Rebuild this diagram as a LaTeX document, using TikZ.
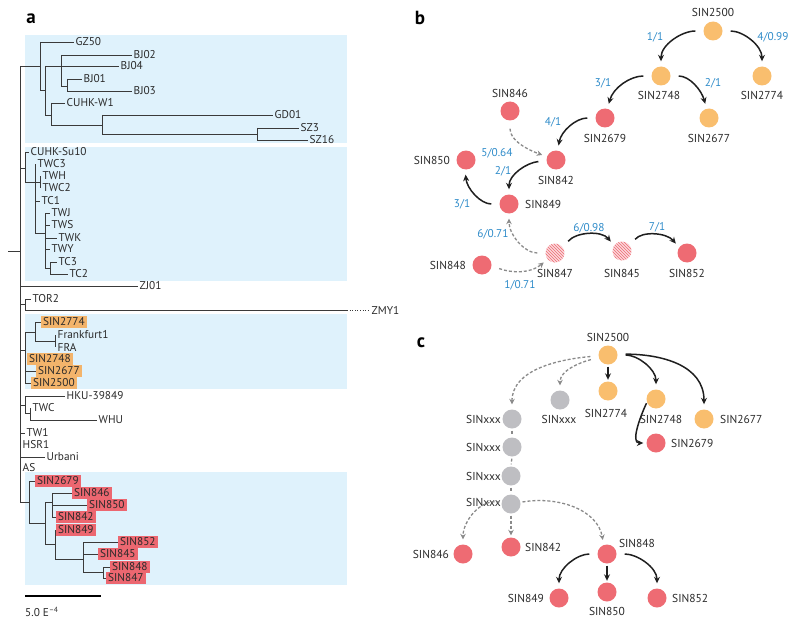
\documentclass[tikz,border=0pt]{standalone}
\usepackage{fontspec}
\setmainfont{PT Sans}
\usetikzlibrary{arrows.meta,patterns}
\definecolor{bluebg}{HTML}{DFF2FC}
\definecolor{olab}{HTML}{F3B46B}
\definecolor{rlab}{HTML}{EC6770}
\definecolor{corange}{HTML}{F9BE6E}
\definecolor{cred}{HTML}{EE6B73}
\definecolor{cpink}{HTML}{FBD9DC}
\definecolor{cgray}{HTML}{BEBEC2}
\definecolor{cblue}{HTML}{2E8BC9}
\definecolor{cdash}{HTML}{8A8A8A}
\definecolor{treegray}{HTML}{3A3A3A}
\definecolor{txt}{HTML}{2A2A2A}
\newcommand\tlfont{\fontsize{11.3}{11.3}\selectfont}
\newcommand\nfont{\fontsize{11.5}{11.5}\selectfont}
\newcommand\efont{\fontsize{11.3}{11.3}\selectfont}
\tikzset{
 br/.style={draw=treegray, line width=0.8pt},
 lf/.style={anchor=west, inner sep=1.5pt, font=\tlfont, text=txt},
 olab/.style={anchor=west, fill=olab, inner xsep=2pt, inner ysep=1.2pt, text height=8pt, text depth=1pt, font=\tlfont, text=txt},
 rlab/.style={olab, fill=rlab},
 cir/.style={circle, minimum size=19pt, inner sep=0pt},
 ocir/.style={cir, fill=corange},
 rcir/.style={cir, fill=cred},
 gcir/.style={cir, fill=cgray},
 hcir/.style={cir, fill=cpink, postaction={pattern=north west lines, pattern color=cred}},
 nl/.style={font=\nfont, inner sep=1pt, text=txt},
 el/.style={font=\efont, inner sep=1pt, text=cblue},
 blk/.style={draw=black!88, line width=1.5pt, -{Stealth[length=6.5pt,width=6pt]}, shorten <=8pt, shorten >=5pt},
 gdsh/.style={draw=cdash, line width=1.3pt, dash pattern=on 3pt off 2pt, -{Stealth[length=5.5pt,width=5.5pt]}, shorten <=8pt, shorten >=5pt},
 gln/.style={draw=cdash, line width=1.3pt, dash pattern=on 3pt off 2pt},
 plab/.style={font=\fontsize{19}{19}\selectfont\bfseries, inner sep=0pt},
}
\begin{document}
\begin{tikzpicture}[x=1pt,y=-1pt]
\useasboundingbox (0,0) rectangle (800,623);
% ---------------- panel a ----------------
\node[plab] (pa) at (31,19) {a};
\fill[bluebg] (25,35) rectangle (347,143);
\fill[bluebg] (25,147) rectangle (347,281);
\fill[bluebg] (25,314) rectangle (347,389);
\fill[bluebg] (25,472) rectangle (347,585);
% root and backbone
\draw[br] (8,251) -- (20,251);
\draw[br] (20,66) -- (20,502);
% clade 1
\draw[br] (20,66) -- (40,66) (40,42) -- (40,90);
\node[lf] (gz50) at (74,42) {GZ50}; \draw[br] (40,42) -- (gz50.west);
\draw[br] (40,90) -- (45,90) (45,66) -- (45,115);
\draw[br] (61,55) -- (61,86);
\node[lf] (bj02) at (132,55) {BJ02}; \draw[br] (61,55) -- (bj02.west);
\node[lf] (bj04) at (119,66) {BJ04}; \draw[br] (45,66) -- (bj04.west);
\draw[br] (61,86) -- (67,86) (67,79) -- (67,91);
\node[lf] (bj01) at (82,79) {BJ01}; \draw[br] (67,79) -- (bj01.west);
\node[lf] (bj03) at (132,91) {BJ03}; \draw[br] (67,91) -- (bj03.west);
\draw[br] (45,115) -- (51,115) (51,103) -- (51,125);
\node[lf] (cuhkw1) at (65,103) {CUHK-W1}; \draw[br] (51,103) -- (cuhkw1.west);
\draw[br] (51,125) -- (102,125) (102,115) -- (102,134);
\node[lf] (gd01) at (273,115) {GD01}; \draw[br] (102,115) -- (gd01.west);
\draw[br] (102,134) -- (257,134) (257,128) -- (257,140);
\node[lf] (sz3) at (299,128) {SZ3}; \draw[br] (257,128) -- (sz3.west);
\node[lf] (sz16) at (308,140) {SZ16}; \draw[br] (257,140) -- (sz16.west);
% clade 2
\draw[br] (20,168) -- (25,168) (25,152) -- (25,182);
\node[lf] (su10) at (29,152) {CUHK-Su10}; \draw[br] (25,152) -- (su10.west);
\draw[br] (25,182) -- (40,182) (35,164) -- (35,233) (40,176) -- (40,188);
\node[lf] (twc3) at (36,164) {TWC3};
\node[lf] (twh) at (41,176) {TWH};
\node[lf] (twc2) at (41,188) {TWC2};
\node[lf] (tc1) at (40,201) {TC1}; \draw[br] (35,201) -- (tc1.west);
\draw[br] (35,233) -- (45,233) (45,213) -- (45,268);
\node[lf] (twj) at (50,213) {TWJ}; \draw[br] (45,213) -- (twj.west);
\node[lf] (tws) at (50,225) {TWS}; \draw[br] (45,225) -- (tws.west);
\node[lf] (twk) at (57,238) {TWK}; \draw[br] (45,238) -- (twk.west);
\node[lf] (twy) at (50,249) {TWY}; \draw[br] (45,249) -- (twy.west);
\draw[br] (45,268) -- (50,268) (50,262) -- (50,274);
\node[lf] (tc3) at (57,262) {TC3}; \draw[br] (50,262) -- (tc3.west);
\node[lf] (tc2) at (68,274) {TC2}; \draw[br] (50,274) -- (tc2.west);
\node[lf] (zj01) at (138,286) {ZJ01}; \draw[br] (20,286) -- (zj01.west);
% TOR2 / ZMY1
\draw[br] (20,304) -- (25,304) (25,299) -- (25,310);
\node[lf] (tor2) at (31,299) {TOR2}; \draw[br] (25,299) -- (tor2.west);
\coordinate (zmyend) at (347,310);
\node[lf] (zmy1) at (370,310) {ZMY1};
\draw[br] (25,310) -- (zmyend);
\draw[draw=treegray, line width=0.8pt, dash pattern=on 1pt off 1.6pt] (zmyend) -- (zmy1.west);
% orange clade
\draw[br] (20,350) -- (25,350) (25,332) -- (25,383);
\draw[br] (25,332) -- (35,332) (35,322) -- (35,341);
\node[olab] (t2774) at (41,322) {SIN2774}; \draw[br] (35,322) -- (t2774.west);
\draw[br] (35,341) -- (55,341) (55,335) -- (55,347);
\node[lf] (frank) at (56,335) {Frankfurt1};
\node[lf] (fra) at (56,347) {FRA};
\node[olab] (t2748) at (27,359) {SIN2748};
\node[olab] (t2677) at (36,371) {SIN2677}; \draw[br] (25,371) -- (t2677.west);
\node[olab] (t2500) at (31,383) {SIN2500}; \draw[br] (25,383) -- (t2500.west);
% HKU clade
\draw[br] (20,405) -- (25,405) (25,396) -- (25,413);
\node[lf] (hku) at (65,396) {HKU-39849}; \draw[br] (25,396) -- (hku.west);
\draw[br] (25,413) -- (30,413) (30,408) -- (30,420);
\node[lf] (twc) at (31,408) {TWC};
\node[lf] (whu) at (97,420) {WHU}; \draw[br] (30,420) -- (whu.west);
\node[lf] (tw1) at (25,433) {TW1}; \draw[br] (20,433) -- (tw1.west);
\node[lf] (hsr1) at (21,445) {HSR1};
\node[lf] (urb) at (45,457) {Urbani}; \draw[br] (20,457) -- (urb.west);
\node[lf] (as) at (21,468) {AS};
% red clade
\draw[br] (20,502) -- (29,502) (29,481) -- (29,523);
\node[rlab] (t2679) at (35,481) {SIN2679}; \draw[br] (29,481) -- (t2679.west);
\draw[br] (29,523) -- (45,523) (45,502) -- (45,544);
\draw[br] (45,502) -- (52,502) (52,493) -- (52,517);
\node[rlab] (t846) at (72,493) {SIN846}; \draw[br] (52,493) -- (t846.west);
\node[rlab] (t850) at (87,505) {SIN850}; \draw[br] (52,505) -- (t850.west);
\node[rlab] (t842) at (56,517) {SIN842}; \draw[br] (52,517) -- (t842.west);
\draw[br] (45,544) -- (55,544) (55,530) -- (55,559);
\node[rlab] (t849) at (56,530) {SIN849};
\draw[br] (55,559) -- (83,559) (83,542) -- (83,572);
\node[rlab] (t852) at (118,542) {SIN852}; \draw[br] (83,542) -- (t852.west);
\node[rlab] (t845) at (98,554) {SIN845}; \draw[br] (83,554) -- (t845.west);
\draw[br] (83,572) -- (103,572) (103,567) -- (103,578);
\node[rlab] (t848) at (110,567) {SIN848}; \draw[br] (103,567) -- (t848.west);
\node[rlab] (t847) at (106,578) {SIN847}; \draw[br] (103,578) -- (t847.west);
% scale bar
\coordinate (sb1) at (25,596); \coordinate (sb2) at (101,596);
\draw[draw=black, line width=1.2pt] (sb1) -- (sb2);
\node[lf, inner sep=0pt] (sblab) at (25,612) {5.0 E\raisebox{4pt}{\fontsize{7.5}{7.5}\selectfont –4}};
% ---------------- panel b ----------------
\node[plab] (pb) at (420,18) {b};
\node[ocir] (b2500) at (713,31) {}; \node[nl] (lb2500) at (713,12) {SIN2500};
\node[ocir] (b2748) at (661,76) {}; \node[nl] (lb2748) at (659,95) {SIN2748};
\node[ocir] (b2774) at (762,76) {}; \node[nl] (lb2774) at (762,95) {SIN2774};
\node[rcir] (b2679) at (605,118) {}; \node[nl] (lb2679) at (605,138) {SIN2679};
\node[ocir] (b2677) at (709,118) {}; \node[nl] (lb2677) at (709,138) {SIN2677};
\node[rcir] (b846) at (510,111) {}; \node[nl] (lb846) at (510,93) {SIN846};
\node[rcir] (b842) at (556,160) {}; \node[nl] (lb842) at (556,180) {SIN842};
\node[rcir] (b850) at (466,160) {}; \node[nl, anchor=east] (lb850) at (451,160) {SIN850};
\node[rcir] (b849) at (509,204) {}; \node[nl, anchor=west] (lb849) at (524,204) {SIN849};
\node[hcir] (b847) at (555,253) {}; \node[nl] (lb847) at (555,273) {SIN847};
\node[hcir] (b845) at (622,251) {}; \node[nl] (lb845) at (622,273) {SIN845};
\node[rcir] (b852) at (687,253) {}; \node[nl] (lb852) at (687,273) {SIN852};
\node[rcir] (b848) at (482,265) {}; \node[nl, anchor=east] (lb848) at (467,265) {SIN848};
% edges b
\draw[blk] (b2500.180) to[out=180,in=90] (b2748.90);
\draw[blk] (b2500.0) to[out=0,in=90] (b2774.90);
\draw[blk] (b2748.180) to[out=180,in=75] (b2679.75);
\draw[blk] (b2748.0) to[out=0,in=105] (b2677.105);
\draw[blk] (b2679.180) to[out=180,in=80] (b842.80);
\draw[gdsh] (b846.-90) to[out=-90,in=160] (b842.160);
\draw[blk] (b842.185) to[out=185,in=90] (b849.90);
\draw[blk] (b849.180) to[out=180,in=-85] (b850.-95);
\draw[gdsh] (b847.180) to[out=180,in=-90] (b849.-90);
\draw[gdsh] (b848.-5) to[out=-20,in=220] (b847.220);
\draw[blk] (b847.35) to[out=50,in=130] (b845.145);
\draw[blk] (b845.35) to[out=50,in=130] (b852.145);
% edge labels b
\node[el] (e1) at (655,37) {1/1};
\node[el] (e2) at (773,37) {4/0.99};
\node[el] (e3) at (603,83) {3/1};
\node[el] (e4) at (713,83) {2/1};
\node[el] (e5) at (553,122) {4/1};
\node[el] (e6) at (497,153) {5/0.64};
\node[el] (e7) at (503,171) {2/1};
\node[el] (e8) at (462,204) {3/1};
\node[el] (e9) at (493,234) {6/0.71};
\node[el] (e10) at (520,285) {1/0.71};
\node[el] (e11) at (589,228) {6/0.98};
\node[el] (e12) at (657,227) {7/1};
% ---------------- panel c ----------------
\node[plab] (pc) at (421,343) {c};
\node[ocir] (c2500) at (608,355) {}; \node[nl] (lc2500) at (608,337) {SIN2500};
\node[ocir] (c2774) at (608,391) {}; \node[nl] (lc2774) at (606,413) {SIN2774};
\node[ocir] (c2748) at (656,399) {}; \node[nl] (lc2748) at (661,419) {SIN2748};
\node[ocir] (c2677) at (704,419) {}; \node[nl, anchor=west] (lc2677) at (719,419) {SIN2677};
\node[rcir] (c2679) at (656,443) {}; \node[nl, anchor=west] (lc2679) at (670,443) {SIN2679};
\node[gcir] (cx1) at (512,419) {}; \node[nl, anchor=east] (lcx1) at (502,419) {SINxxx};
\node[gcir] (cxb) at (560,400) {}; \node[nl] (lcxb) at (559,419) {SINxxx};
\node[gcir] (cx2) at (512,447) {}; \node[nl, anchor=east] (lcx2) at (502,447) {SINxxx};
\node[gcir] (cx3) at (511,476) {}; \node[nl, anchor=east] (lcx3) at (502,476) {SINxxx};
\node[gcir] (cx4) at (511,504) {}; \node[nl, anchor=east] (lcx4) at (502,502) {SINxxx};
\node[rcir] (c846) at (463,554) {}; \node[nl, anchor=east] (lc846) at (450,554) {SIN846};
\node[rcir] (c842) at (511,547) {}; \node[nl, anchor=west] (lc842) at (524,547) {SIN842};
\node[rcir] (c848) at (607,554) {}; \node[nl] (lc848) at (637,543) {SIN848};
\node[rcir] (c849) at (559,598) {}; \node[nl, anchor=east] (lc849) at (545,598) {SIN849};
\node[rcir] (c850) at (607,592) {}; \node[nl] (lc850) at (607,611) {SIN850};
\node[rcir] (c852) at (657,598) {}; \node[nl, anchor=west] (lc852) at (671,598) {SIN852};
% edges c
\draw[gdsh] (c2500.185) to[out=185,in=90] (cx1.90);
\draw[gdsh] (c2500.195) to[out=195,in=90] (cxb.90);
\draw[blk, shorten <=2pt, shorten >=1.5pt] (c2500.-90) -- (c2774.90);
\draw[blk] (c2500.0) to[out=0,in=90] (c2748.90);
\draw[blk] (c2500.5) to[out=0,in=90,looseness=1.1] (c2677.90);
\draw[blk, shorten <=1pt, shorten >=3pt] (c2748.200) to[out=245,in=180] (c2679.180);
\draw[gln, shorten <=2pt, shorten >=2pt] (cx1.-90) -- (cx2.90);
\draw[gln, shorten <=2pt, shorten >=2pt] (cx2.-90) -- (cx3.90);
\draw[gln, shorten <=2pt, shorten >=2pt] (cx3.-90) -- (cx4.90);
\draw[gdsh, shorten <=2pt] (cx4.170) to[out=170,in=90] (c846.90);
\draw[gdsh, shorten <=2pt, shorten >=2pt] (cx4.-90) -- (c842.90);
\draw[gdsh, shorten <=2pt] (cx4.10) to[out=10,in=100] (c848.110);
\draw[blk] (c848.180) to[out=180,in=90] (c849.90);
\draw[blk, shorten <=2pt, shorten >=1.5pt] (c848.-90) -- (c850.90);
\draw[blk] (c848.0) to[out=0,in=90] (c852.90);
\end{tikzpicture}
\end{document}
